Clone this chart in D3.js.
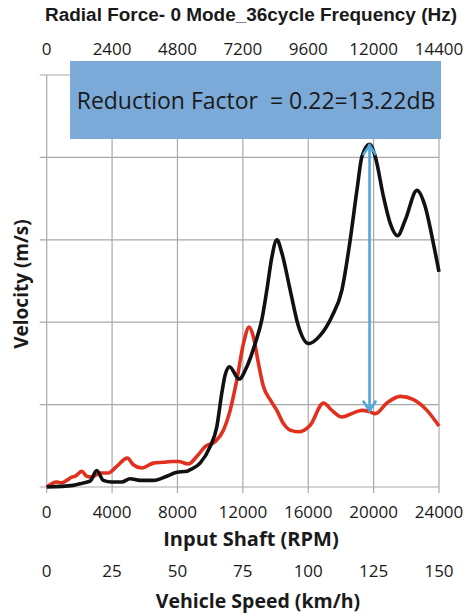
<!DOCTYPE html>
<html>
<head>
<meta charset="utf-8">
<script src="https://cdn.jsdelivr.net/npm/d3@7"></script>
<style>
  html, body { margin: 0; padding: 0; background: #fff; }
  svg { display: block; }
</style>
</head>
<body>
<svg id="chart" width="472" height="616"></svg>
<script>
// Input shaft speed (RPM) and velocity (grid units) for the baseline response (black)
const baseRpm = [0, 1628, 2240, 2651, 3061, 3465, 3979, 4592, 5100, 5712, 6526, 7346, 7959, 8571, 8773,
  9385, 9997, 10407, 10713, 10916, 11179, 11773, 12244, 12752, 13162, 13468, 13775, 14081, 14387, 14895,
  15403, 16015, 16731, 17448, 18060, 18568, 18978, 19285, 19750, 20099, 20607, 21017, 21464, 21935,
  22651, 23159, 23570, 24000];
const baseVel = [0, 0.02, 0.05, 0.07, 0.20, 0.08, 0.06, 0.06, 0.10, 0.08, 0.08, 0.13, 0.18, 0.19, 0.21,
  0.29, 0.49, 0.73, 1.14, 1.36, 1.46, 1.31, 1.46, 1.74, 2.03, 2.39, 2.79, 3.00, 2.84, 2.39,
  1.95, 1.74, 1.84, 2.07, 2.39, 3.00, 3.60, 4.01, 4.16, 4.01, 3.52, 3.20, 3.05, 3.24,
  3.60, 3.40, 3.04, 2.61];

// Reduced response (red)
const redRpm = [0, 612, 918, 1224, 1530, 1733, 2143, 2449, 2755, 3263, 3771, 4285, 4934, 5302, 5816,
  6526, 7138, 7652, 8057, 8669, 9183, 9691, 10303, 10811, 11222, 11632, 12036, 12385, 12648, 12954,
  13260, 13670, 14081, 14485, 14895, 15403, 16119, 16934, 17448, 18060, 18770, 19285, 19750, 20099,
  20815, 21629, 22443, 23263, 24000];
const redVel = [0, 0.06, 0.05, 0.08, 0.12, 0.13, 0.19, 0.13, 0.12, 0.17, 0.17, 0.25, 0.35, 0.27, 0.23,
  0.29, 0.30, 0.31, 0.31, 0.28, 0.37, 0.49, 0.55, 0.69, 0.93, 1.30, 1.74, 1.94, 1.82, 1.50,
  1.22, 1.06, 0.93, 0.77, 0.69, 0.67, 0.75, 1.02, 0.93, 0.85, 0.90, 0.93, 0.915, 0.89,
  1.02, 1.10, 1.06, 0.93, 0.74];

// Axis tick labels
const rpmTicks = [0, 4000, 8000, 12000, 16000, 20000, 24000];
const freqTicks = [0, 2400, 4800, 7200, 9600, 12000, 14400];
const speedTicks = [0, 25, 50, 75, 100, 125, 150];
const velTicks = [0, 1, 2, 3, 4, 5];

// Reduction marker
const markerRpm = 19750;
const reductionFactor = 0.22;
const reductionDb = 13.22;

const svg = d3.select("#chart");
const plotLeft = 46.7, plotRight = 439, plotTop = 75, plotBottom = 487;

const x = d3.scaleLinear().domain([0, 24000]).range([plotLeft, plotRight]);
const xFreq = d3.scaleLinear().domain([0, 14400]).range([plotLeft, plotRight]);
const xSpeed = d3.scaleLinear().domain([0, 150]).range([plotLeft, plotRight]);
const y = d3.scaleLinear().domain([0, 5]).range([plotBottom, plotTop]);

const gridColor = "#a9a9a9";
const tickFont = "'Open Sans', 'DejaVu Sans', sans-serif";

// Horizontal grid with short ticks to the left
svg.append("g").selectAll("line").data(velTicks).join("line")
  .attr("x1", plotLeft - 7).attr("x2", plotRight)
  .attr("y1", d => y(d)).attr("y2", d => y(d))
  .attr("stroke", gridColor).attr("stroke-width", 1.2);

// Vertical grid with short ticks below
svg.append("g").selectAll("line").data(rpmTicks).join("line")
  .attr("x1", d => x(d)).attr("x2", d => x(d))
  .attr("y1", plotTop).attr("y2", plotBottom + 6)
  .attr("stroke", gridColor).attr("stroke-width", 1.2);

// Title and top frequency axis labels
svg.append("text")
  .attr("x", 251).attr("y", 21)
  .attr("text-anchor", "middle")
  .attr("font-family", "'Liberation Sans', Arial, sans-serif")
  .attr("font-weight", "bold").attr("font-size", 17.5)
  .attr("textLength", 412).attr("lengthAdjust", "spacingAndGlyphs")
  .attr("fill", "#1a1a1a")
  .text("Radial Force- 0 Mode_36cycle Frequency (Hz)");

svg.append("g").selectAll("text").data(freqTicks).join("text")
  .attr("x", d => xFreq(d)).attr("y", 55)
  .attr("text-anchor", "middle")
  .attr("font-family", tickFont).attr("font-size", 17)
  .attr("fill", "#1a1a1a")
  .text(d => d);

// Bottom RPM axis labels and title
svg.append("g").selectAll("text").data(rpmTicks).join("text")
  .attr("x", d => x(d)).attr("y", 518)
  .attr("text-anchor", "middle")
  .attr("font-family", tickFont).attr("font-size", 17)
  .attr("fill", "#1a1a1a")
  .text(d => d);

svg.append("text")
  .attr("x", 251).attr("y", 546)
  .attr("text-anchor", "middle")
  .attr("font-family", tickFont).attr("font-weight", "bold").attr("font-size", 20)
  .attr("fill", "#1a1a1a")
  .text("Input Shaft (RPM)");

// Vehicle speed axis labels and title
svg.append("g").selectAll("text").data(speedTicks).join("text")
  .attr("x", d => xSpeed(d)).attr("y", 577)
  .attr("text-anchor", "middle")
  .attr("font-family", tickFont).attr("font-size", 17)
  .attr("fill", "#1a1a1a")
  .text(d => d);

svg.append("text")
  .attr("x", 258).attr("y", 608)
  .attr("text-anchor", "middle")
  .attr("font-family", tickFont).attr("font-weight", "bold").attr("font-size", 19.5)
  .attr("fill", "#1a1a1a")
  .text("Vehicle Speed (km/h)");

// Y axis title
svg.append("text")
  .attr("transform", "translate(28,284) rotate(-90)")
  .attr("text-anchor", "middle")
  .attr("font-family", tickFont).attr("font-weight", "bold").attr("font-size", 19)
  .attr("fill", "#1a1a1a")
  .text("Velocity (m/s)");

// Response curves
const line = d3.line()
  .x(d => x(d[0])).y(d => y(d[1]))
  .curve(d3.curveMonotoneX);

svg.append("path")
  .datum(d3.zip(redRpm, redVel))
  .attr("d", line)
  .attr("fill", "none").attr("stroke", "#e2301f")
  .attr("stroke-width", 3.6).attr("stroke-linejoin", "round");

svg.append("path")
  .datum(d3.zip(baseRpm, baseVel))
  .attr("d", line)
  .attr("fill", "none").attr("stroke", "#111")
  .attr("stroke-width", 3.6).attr("stroke-linejoin", "round");

// Double-headed arrow showing the reduction at the peak
const peakVel = baseVel[baseRpm.indexOf(markerRpm)];
const lowVel = peakVel * reductionFactor;
const ax = x(markerRpm), ay1 = y(peakVel), ay2 = y(lowVel);
const arrowColor = "#4fa6da";
const arrow = svg.append("g").attr("stroke", arrowColor).attr("stroke-width", 2.6)
  .attr("fill", "none").attr("stroke-linecap", "round");
arrow.append("line").attr("x1", ax).attr("x2", ax).attr("y1", ay1 + 1).attr("y2", ay2 - 1);
arrow.append("path").attr("d", `M${ax - 6},${ay2 - 10} L${ax},${ay2 - 1} L${ax + 6},${ay2 - 10}`);
arrow.append("path").attr("d", `M${ax - 6},${ay1 + 10} L${ax},${ay1 + 1} L${ax + 6},${ay1 + 10}`);

// Annotation box
svg.append("rect")
  .attr("x", 70).attr("y", 61).attr("width", 371).attr("height", 78)
  .attr("fill", "#7baad8");

svg.append("text")
  .attr("x", 256).attr("y", 109)
  .attr("text-anchor", "middle")
  .attr("font-family", tickFont).attr("font-size", 23)
  .attr("fill", "#1a1a1a")
  .attr("xml:space", "preserve")
  .text(`Reduction Factor  = ${reductionFactor.toFixed(2)}=${reductionDb.toFixed(2)}dB`);
</script>
</body>
</html>
